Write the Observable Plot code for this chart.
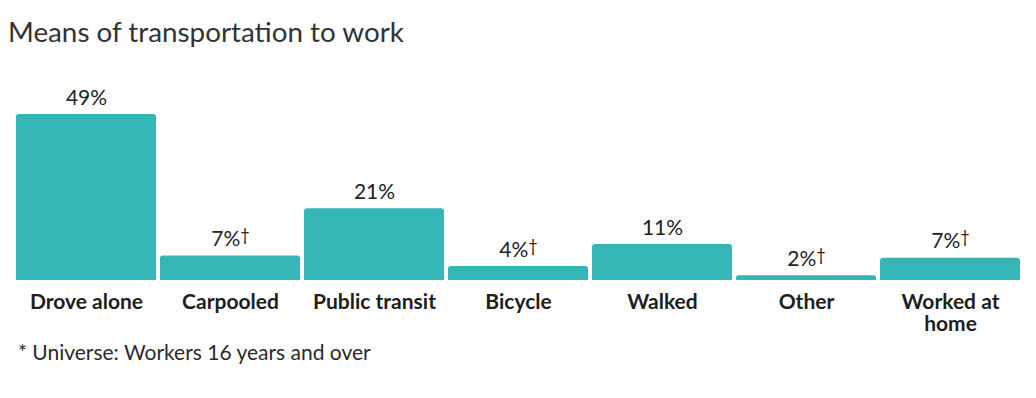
<!DOCTYPE html>
<html>
<head>
<meta charset="utf-8">
<script src="https://cdn.jsdelivr.net/npm/d3@7"></script>
<script src="https://cdn.jsdelivr.net/npm/@observablehq/plot@0.6"></script>
<style>
  html, body { margin: 0; padding: 0; background: #fff; }
  body { width: 1036px; height: 398px; overflow: hidden; font-family: Lato, sans-serif; color: #2a2a2a; }
  #title { height: 62px; box-sizing: border-box; padding: 16px 0 0 8px; font-size: 27.8px; line-height: 32px; font-weight: 400; color: #333; }
  #chart svg { display: block; }
  #note { padding: 4px 0 0 18px; font-size: 21px; line-height: 26px; color: #2a2a2a; }
</style>
</head>
<body>
<div id="title">Means of transportation to work</div>
<div id="chart"></div>
<div id="note">* Universe: Workers 16 years and over</div>
<script>
const categories = ["Drove alone", "Carpooled", "Public transit", "Bicycle", "Walked", "Other", "Worked at\nhome"];
const values = [49, 7.2, 21.2, 4.1, 10.6, 1.4, 6.6];
const valueLabels = ["49%", "7%†", "21%", "4%†", "11%", "2%†", "7%†"];

const data = categories.map((c, i) => ({cat: c, value: values[i], label: valueLabels[i]}));
const teal = "#34b5b6";

const chart = Plot.plot({
  width: 1036,
  height: 273,
  marginTop: 52,
  marginBottom: 55,
  marginLeft: 14,
  marginRight: 14,
  style: {fontFamily: "Lato, sans-serif", color: "#222", background: "#fff"},
  x: {domain: categories, paddingInner: 4 / 144, paddingOuter: 2 / 144, axis: null},
  y: {domain: [0, 49], axis: null},
  marks: [
    Plot.barY(data, {x: "cat", y: "value", fill: teal, rx: 3}),
    Plot.barY(data, {x: "cat", y1: 0, y2: d => d.value / 2, fill: teal}),
    Plot.text(data, {x: "cat", y: "value", text: "label", dy: -10, lineAnchor: "bottom", fontSize: 21, fill: "#222"}),
    Plot.text(data, {x: "cat", y: 0, text: "cat", dy: 12, lineAnchor: "top", lineHeight: 1.08, fontSize: 21, fontWeight: 700, fill: "#1e1e1e"})
  ]
});

// superscript daggers
d3.select(chart).selectAll("text").each(function() {
  const t = this.textContent;
  if (this.childElementCount === 0 && t.endsWith("†")) {
    this.textContent = t.slice(0, -1);
    d3.select(this).append("tspan").attr("font-size", "0.78em").attr("dy", "-0.3em").text("†");
  }
});

document.getElementById("chart").appendChild(chart);
</script>
</body>
</html>
